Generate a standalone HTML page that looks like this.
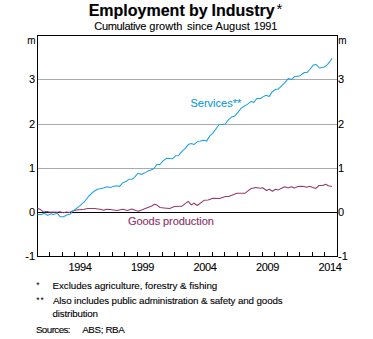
<!DOCTYPE html>
<html><head><meta charset="utf-8"><style>
html,body{margin:0;padding:0;background:#fff;width:373px;height:339px;overflow:hidden}
svg{display:block;font-family:"Liberation Sans",sans-serif}
</style></head><body>
<svg width="373" height="339" viewBox="0 0 373 339">
<rect width="373" height="339" fill="#fff"/>
<g font-size="16" font-weight="bold" fill="#000" stroke="#000" stroke-width="0.15"><text x="88.7" y="15.5">Employment</text><text x="189" y="15.5">by</text><text x="211.5" y="15.5">Industry</text><text x="276.6" y="13.5" font-weight="normal" font-size="15" stroke-width="0">*</text></g>
<g font-size="11" fill="#000" stroke="#000" stroke-width="0.1"><text x="94.3" y="30" textLength="52" lengthAdjust="spacing">Cumulative</text><text x="149.3" y="30">growth</text><text x="187" y="30">since</text><text x="215.6" y="30">August</text><text x="253.7" y="30" textLength="23.6" lengthAdjust="spacing">1991</text></g>
<g stroke="#aaaaaa" stroke-width="1" fill="none" shape-rendering="crispEdges"><path d="M37,79.5H337"/><path d="M37,124.5H337"/><path d="M37,168.5H337"/></g>
<g stroke="#000" stroke-width="1" fill="none" shape-rendering="crispEdges">
<path d="M37,212.5H337"/>
<rect x="37.5" y="35.5" width="300" height="221"/>
<path d="M49.5,252V256"/><path d="M62.5,252V256"/><path d="M74.5,252V256"/><path d="M87.5,252V256"/><path d="M99.5,252V256"/><path d="M112.5,252V256"/><path d="M124.5,252V256"/><path d="M137.5,252V256"/><path d="M149.5,252V256"/><path d="M162.5,252V256"/><path d="M174.5,252V256"/><path d="M187.5,252V256"/><path d="M199.5,252V256"/><path d="M212.5,252V256"/><path d="M224.5,252V256"/><path d="M237.5,252V256"/><path d="M249.5,252V256"/><path d="M262.5,252V256"/><path d="M274.5,252V256"/><path d="M287.5,252V256"/><path d="M299.5,252V256"/><path d="M312.5,252V256"/><path d="M324.5,252V256"/>
</g>
<path d="M37.5,208.2 L40.8,209.8 L43.4,211.9 L47.2,211.5 L50.4,212.3 L53.1,212.1 L57.0,212.3 L60.0,211.8 L63.3,212.7 L66.6,212.0 L69.5,212.5 L72.5,210.9 L77.6,209.7 L80.0,209.8 L84.0,209.3 L88.0,208.5 L94.5,208.5 L100.1,209.3 L103.7,210.3 L106.5,209.3 L110.0,209.6 L116.8,210.6 L122.9,209.3 L127.3,210.6 L131.7,209.0 L135.8,210.5 L138.4,211.3 L141.6,210.1 L146.5,207.9 L151.3,206.3 L154.5,204.3 L156.9,205.1 L160.1,207.5 L164.0,207.9 L169.6,208.4 L174.5,206.5 L181.7,206.3 L188.1,201.4 L191.4,204.9 L194.0,203.3 L197.2,205.5 L204.1,200.3 L208.1,199.9 L212.9,198.3 L219.4,198.5 L225.6,196.5 L228.8,196.5 L236.9,193.3 L244.9,193.3 L248.0,190.9 L251.2,188.5 L256.0,187.4 L260.1,188.2 L262.5,187.7 L266.5,190.5 L269.3,189.3 L272.5,191.3 L275.4,189.3 L278.4,189.9 L281.6,188.3 L284.8,186.7 L288.1,187.9 L291.3,186.8 L294.5,188.1 L297.7,186.5 L301.7,186.3 L304.0,186.6 L306.7,187.2 L309.8,186.3 L312.8,187.5 L315.9,188.4 L319.0,185.5 L322.6,185.5 L325.7,184.2 L328.3,185.7 L331.9,186.6" fill="none" stroke="#963a6c" stroke-width="1.05" stroke-linejoin="round"/>
<path d="M37.5,214.4 L41.6,214.4 L44.0,213.3 L47.7,215.4 L50.9,213.7 L53.1,214.4 L55.2,214.1 L57.0,213.1 L60.3,216.8 L63.6,216.8 L66.6,215.0 L69.9,214.3 L72.1,211.8 L80.0,205.7 L84.4,201.7 L88.8,196.0 L93.3,191.8 L97.3,189.3 L99.9,188.8 L103.5,188.0 L106.1,186.9 L108.0,187.1 L110.7,187.6 L112.9,186.4 L116.4,185.8 L119.5,186.4 L123.0,182.7 L125.7,181.6 L128.8,179.3 L131.9,179.3 L134.5,177.4 L137.3,174.0 L138.7,173.3 L141.3,174.4 L144.4,173.1 L147.9,171.1 L151.0,170.0 L153.7,168.7 L156.8,164.6 L159.9,164.5 L163.0,160.9 L166.7,158.3 L172.4,158.8 L175.9,155.7 L178.6,155.5 L182.1,151.1 L184.8,148.8 L188.3,144.6 L191.0,143.5 L194.2,144.4 L197.8,141.3 L200.4,141.1 L203.5,140.2 L206.6,141.1 L209.7,136.1 L212.8,133.1 L219.0,124.7 L225.3,124.0 L228.8,119.3 L231.5,117.1 L234.6,116.2 L237.7,112.7 L241.2,108.1 L243.9,106.5 L246.5,104.9 L248.0,103.8 L251.1,101.4 L253.8,102.4 L256.8,98.5 L260.4,98.5 L263.0,96.9 L266.1,95.2 L269.2,96.4 L272.3,91.8 L275.9,89.3 L278.2,89.2 L281.3,86.1 L284.8,82.6 L288.4,78.4 L291.5,79.6 L294.6,76.6 L299.5,76.1 L304.3,72.5 L306.9,72.6 L309.8,69.5 L313.3,65.1 L316.2,64.6 L319.6,68.0 L324.4,67.0 L327.4,64.6 L329.8,61.7 L332.0,58.3" fill="none" stroke="#1aa2e2" stroke-width="1.05" stroke-linejoin="round"/>
<g font-size="11" fill="#000" stroke="#000" stroke-width="0.1">
<text x="27.3" y="44" textLength="8.3" lengthAdjust="spacingAndGlyphs">m</text>
<text x="338.2" y="44" textLength="8.3" lengthAdjust="spacingAndGlyphs">m</text>
<text x="35" y="83" text-anchor="end">3</text><text x="35" y="128" text-anchor="end">2</text><text x="35" y="172" text-anchor="end">1</text><text x="35" y="216" text-anchor="end">0</text><text x="35" y="260" text-anchor="end">-1</text>
<text x="338" y="83">3</text><text x="338" y="128">2</text><text x="338" y="172">1</text><text x="338" y="216">0</text><text x="338" y="260">-1</text>
<text x="68.40" y="271" textLength="23.5" lengthAdjust="spacing">1994</text><text x="130.90" y="271" textLength="23.5" lengthAdjust="spacing">1999</text><text x="193.40" y="271" textLength="23.5" lengthAdjust="spacing">2004</text><text x="255.90" y="271" textLength="23.5" lengthAdjust="spacing">2009</text><text x="318.40" y="271" textLength="23.5" lengthAdjust="spacing">2014</text>
</g>
<text x="190.5" y="107.3" font-size="11" fill="#0a9ade" stroke="#0a9ade" stroke-width="0.1">Services**</text>
<text x="128" y="224.7" font-size="11" fill="#8a326c" stroke="#8a326c" stroke-width="0.12" textLength="85.8" lengthAdjust="spacing">Goods production</text>
<g font-size="9.8" fill="#000" stroke="#000" stroke-width="0.1">
<text x="36.2" y="288" font-size="8.5" stroke-width="0">*</text>
<text x="52.5" y="289.2" textLength="164.8" lengthAdjust="spacing">Excludes agriculture, forestry &amp; fishing</text>
<text x="36.2" y="302.8" font-size="8.5" stroke-width="0" textLength="7.6" lengthAdjust="spacing">**</text>
<text x="52.9" y="303.8" textLength="229.8" lengthAdjust="spacing">Also includes public administration &amp; safety and goods</text>
<text x="52.6" y="317" textLength="45.3" lengthAdjust="spacing">distribution</text>
<text x="35.9" y="333.2" textLength="34.7" lengthAdjust="spacing">Sources:</text>
<text x="82.2" y="333.2" textLength="42.6" lengthAdjust="spacing">ABS; RBA</text>
</g>
</svg>
</body></html>
